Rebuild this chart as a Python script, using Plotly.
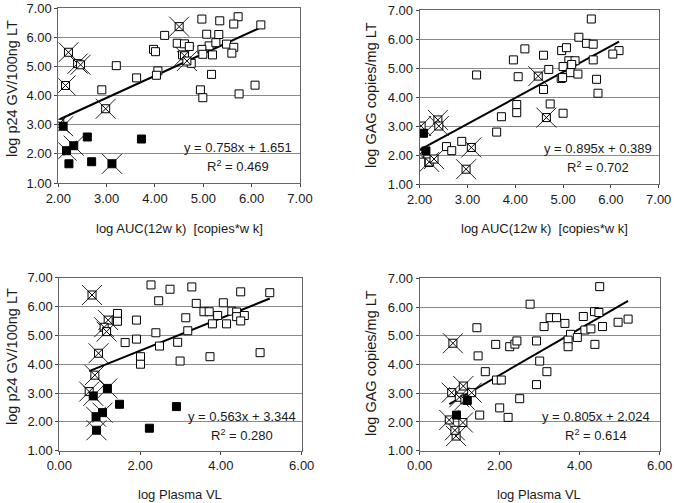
import plotly.graph_objects as go
import numpy as np

# ---------------- Panel 1: log p24 vs log AUC ----------------
p1_open_x = [4.97, 5.34, 5.72, 5.63, 6.19, 4.20, 5.07, 5.32, 4.46, 4.61, 3.97, 4.01, 4.71, 5.12, 5.26,
             4.97, 5.48, 5.63, 5.59, 4.99, 5.19, 4.57, 4.75, 3.20, 4.06, 4.03, 5.17, 3.62, 2.90, 4.94,
             4.99, 5.74, 6.07]
p1_open_y = [6.63, 6.57, 6.71, 6.46, 6.43, 6.07, 6.11, 6.10, 5.80, 5.78, 5.59, 5.51, 5.69, 5.71, 5.82,
             5.59, 5.77, 5.66, 5.46, 5.42, 5.40, 5.40, 5.11, 5.03, 4.85, 4.70, 4.73, 4.61, 4.20, 4.20,
             3.93, 4.06, 4.36]
p1_filled_x = [2.60, 3.72, 2.22, 2.69]
p1_filled_y = [2.58, 2.51, 1.66, 1.73]
p1_xopen_x = [4.50, 2.21, 2.40, 2.46, 2.15, 2.98, 2.03, 4.61, 4.66]
p1_xopen_y = [6.37, 5.49, 5.10, 5.06, 4.35, 3.55, 3.05, 5.37, 5.19]
p1_xfilled_x = [2.10, 2.17, 2.32, 3.11]
p1_xfilled_y = [2.95, 2.11, 2.28, 1.66]

# ---------------- Panel 2: log GAG vs log AUC ----------------
p2_open_x = [5.59, 5.33, 5.49, 5.63, 6.17, 6.04, 4.20, 4.59, 4.97, 5.07, 3.96, 5.12, 5.25, 5.63, 5.00,
             4.70, 5.18, 5.15, 5.31, 4.96, 4.99, 5.70, 5.73, 4.06, 4.59, 3.19, 4.03, 4.03, 4.73, 5.00,
             3.71, 3.61, 2.56, 2.67, 2.88, 2.19]
p2_open_y = [6.69, 6.06, 5.85, 5.82, 5.60, 5.48, 5.66, 5.44, 5.60, 5.70, 5.28, 5.25, 5.25, 5.28, 5.05,
             4.95, 5.12, 4.84, 4.79, 4.64, 4.67, 4.61, 4.13, 4.70, 4.26, 4.76, 3.74, 3.46, 3.76, 3.44,
             3.32, 2.79, 2.29, 2.15, 2.47, 1.74]
p2_filled_x = [2.08, 2.13]
p2_filled_y = [2.75, 2.14]
p2_xopen_x = [4.48, 4.65, 3.08, 2.97, 2.38, 2.40, 2.03, 2.00, 2.20, 2.30]
p2_xopen_y = [4.72, 3.29, 2.26, 1.51, 3.21, 3.00, 3.00, 2.03, 1.76, 1.86]
p2_xfilled_x = []
p2_xfilled_y = []

# ---------------- Panel 3: log p24 vs log Plasma VL ----------------
p3_open_x = [2.27, 2.74, 3.28, 2.46, 3.39, 4.06, 4.49, 5.21, 1.44, 1.44, 1.91, 3.13, 3.58, 3.71, 3.92,
             4.27, 4.39, 4.39, 4.58, 3.79, 4.14, 4.49, 2.39, 3.18, 1.63, 1.91, 2.48, 2.93, 2.01, 2.01,
             2.99, 3.73, 4.97]
p3_open_y = [6.75, 6.60, 6.68, 6.20, 6.11, 6.13, 6.51, 6.48, 5.76, 5.49, 5.53, 5.61, 5.82, 5.82, 5.69,
             5.84, 5.81, 5.65, 5.69, 5.40, 5.40, 5.50, 5.09, 5.16, 4.75, 4.87, 4.63, 4.76, 4.26, 4.00,
             4.11, 4.26, 4.40]
p3_filled_x = [1.49, 2.90, 2.23]
p3_filled_y = [2.61, 2.53, 1.78]
p3_xopen_x = [0.81, 1.21, 1.11, 1.17, 0.97, 0.88, 0.74]
p3_xopen_y = [6.40, 5.53, 5.28, 5.13, 4.38, 3.62, 3.05]
p3_xfilled_x = [0.84, 1.19, 0.91, 1.07, 0.92]
p3_xfilled_y = [2.90, 3.16, 2.18, 2.32, 1.71]

# ---------------- Panel 4: log GAG vs log Plasma VL ----------------
p4_open_x = [4.50, 2.76, 3.26, 3.42, 3.63, 4.09, 4.37, 4.48, 4.96, 5.21, 4.57, 1.43, 3.11, 4.13, 4.28,
             3.77, 3.71, 3.71, 3.94, 4.38, 1.90, 2.25, 2.38, 2.43, 2.92, 1.46, 1.64, 3.00, 3.18, 1.92,
             2.04, 2.92, 2.50, 1.50, 2.00, 2.21]
p4_open_y = [6.71, 6.10, 5.63, 5.63, 5.43, 5.67, 5.84, 5.81, 5.47, 5.58, 5.32, 5.28, 5.32, 5.20, 5.24,
             5.05, 4.85, 4.62, 4.94, 4.70, 4.70, 4.62, 4.71, 4.82, 4.82, 4.30, 3.75, 4.12, 3.75, 3.46,
             3.46, 3.30, 2.81, 2.24, 2.49, 2.16]
p4_filled_x = [0.92, 1.19]
p4_filled_y = [2.24, 2.75]
p4_xopen_x = [0.83, 0.80, 1.09, 1.30, 0.99, 1.13, 0.74, 1.08, 0.91, 0.88]
p4_xopen_y = [4.74, 3.02, 3.25, 3.02, 2.86, 2.77, 2.07, 1.98, 1.51, 1.71]
p4_xfilled_x = []
p4_xfilled_y = []

slopes = [0.758, 0.895, 0.563, 0.805]
intercepts = [1.651, 0.389, 3.344, 2.024]
r2_values = ["0.469", "0.702", "0.280", "0.614"]
x_titles = ["log AUC(12w k)  [copies*w k]", "log AUC(12w k)  [copies*w k]", "log Plasma VL", "log Plasma VL"]
y_titles = ["log p24 GV/100ng LT", "log GAG copies/mg LT", "log p24 GV/100ng LT", "log GAG copies/mg LT"]
x_ranges = [[2, 7], [2, 7], [0, 6], [0, 6]]
x_dticks = [1, 1, 2, 2]

panels = [
    (p1_open_x, p1_open_y, p1_filled_x, p1_filled_y, p1_xopen_x, p1_xopen_y, p1_xfilled_x, p1_xfilled_y),
    (p2_open_x, p2_open_y, p2_filled_x, p2_filled_y, p2_xopen_x, p2_xopen_y, p2_xfilled_x, p2_xfilled_y),
    (p3_open_x, p3_open_y, p3_filled_x, p3_filled_y, p3_xopen_x, p3_xopen_y, p3_xfilled_x, p3_xfilled_y),
    (p4_open_x, p4_open_y, p4_filled_x, p4_filled_y, p4_xopen_x, p4_xopen_y, p4_xfilled_x, p4_xfilled_y),
]

W, H = 676, 503
# plot-area pixel boxes (left, right, top, bottom)
boxes = [(58.3, 300.0, 8.3, 183.0), (419.7, 658.7, 10.0, 184.0),
         (59.3, 301.7, 277.7, 450.7), (419.7, 659.7, 278.3, 450.7)]
# equation label centers (x, y of first line)
eq_pos = [(237.5, 147), (598, 148), (241.5, 416), (595.5, 416)]
xt_pos = [(179, 228), (544, 228), (180, 494), (539, 494)]
yt_pos = [(12, 89), (371, 95), (12, 357), (371, 363)]

FONT = "Liberation Sans, Arial, sans-serif"
TXT = "#1a1a1a"
fig = go.Figure()
annotations = []

for i, (ox, oy, fx, fy, cx, cy, cfx, cfy) in enumerate(panels):
    k = "" if i == 0 else str(i + 1)
    xa, ya = "x" + k, "y" + k
    # trend line
    allx = np.array(ox + fx + cx + cfx)
    lx = np.array([allx.min(), allx.max()])
    fig.add_trace(go.Scatter(x=lx, y=slopes[i] * lx + intercepts[i], mode="lines",
                             line=dict(color="black", width=2), xaxis=xa, yaxis=ya, hoverinfo="skip"))
    # big thin crosses
    fig.add_trace(go.Scatter(x=cx + cfx, y=cy + cfy, mode="markers",
                             marker=dict(symbol="x-thin-open", size=20, color="#222",
                                         line=dict(color="#222", width=1)),
                             xaxis=xa, yaxis=ya, hoverinfo="skip"))
    fig.add_trace(go.Scatter(x=ox, y=oy, mode="markers",
                             marker=dict(symbol="square", size=8, color="white",
                                         line=dict(color="black", width=1)),
                             xaxis=xa, yaxis=ya, hoverinfo="skip"))
    fig.add_trace(go.Scatter(x=cx, y=cy, mode="markers",
                             marker=dict(symbol="square-x", size=8, color="white",
                                         line=dict(color="black", width=1)),
                             xaxis=xa, yaxis=ya, hoverinfo="skip"))
    fig.add_trace(go.Scatter(x=fx + cfx, y=fy + cfy, mode="markers",
                             marker=dict(symbol="square", size=8, color="black",
                                         line=dict(color="black", width=1)),
                             xaxis=xa, yaxis=ya, hoverinfo="skip"))

    l, r, t, b = boxes[i]
    fig.layout["xaxis" + k] = dict(domain=[l / W, r / W], anchor=ya, range=x_ranges[i], dtick=x_dticks[i],
                                   tick0=0, tickformat=".2f", showgrid=False, zeroline=False,
                                   showline=True, linecolor="#666", linewidth=1, mirror=True,
                                   ticks="outside", ticklen=3, tickcolor="#444", automargin=False,
                                   tickfont=dict(family=FONT, size=13, color=TXT))
    fig.layout["yaxis" + k] = dict(domain=[1 - b / H, 1 - t / H], anchor=xa, range=[1, 7], dtick=1,
                                   tickformat=".2f", showgrid=True, gridcolor="#8a8a8a", gridwidth=1,
                                   zeroline=False, showline=True, linecolor="#666", linewidth=1, mirror=True,
                                   ticks="outside", ticklen=3, tickcolor="#444", automargin=False,
                                   tickfont=dict(family=FONT, size=13, color=TXT))
    ex, ey = eq_pos[i]
    annotations.append(dict(x=ex / W, y=1 - ey / H, xref="paper", yref="paper", showarrow=False,
                            text=f"y = {slopes[i]:.3f}x + {intercepts[i]:.3f}", xanchor="center",
                            yanchor="middle", font=dict(family=FONT, size=13, color=TXT)))
    annotations.append(dict(x=ex / W, y=1 - (ey + 19) / H, xref="paper", yref="paper", showarrow=False,
                            text=f"R<sup>2</sup> = {r2_values[i]}", xanchor="center",
                            yanchor="middle", font=dict(family=FONT, size=13, color=TXT)))
    tx, ty = xt_pos[i]
    annotations.append(dict(x=tx / W, y=1 - ty / H, xref="paper", yref="paper", showarrow=False,
                            text=x_titles[i], xanchor="center", yanchor="middle",
                            font=dict(family=FONT, size=13, color=TXT)))
    yx, yy = yt_pos[i]
    annotations.append(dict(x=yx / W, y=1 - yy / H, xref="paper", yref="paper", showarrow=False,
                            text=y_titles[i], textangle=-90, xanchor="center", yanchor="middle",
                            font=dict(family=FONT, size=14.5, color=TXT)))

fig.update_layout(width=W, height=H, margin=dict(l=0, r=0, t=0, b=0, autoexpand=False), showlegend=False,
                  paper_bgcolor="white", plot_bgcolor="white", annotations=annotations)
fig.write_html("out.html", config={"displayModeBar": False},
               post_script="document.body.style.margin='0';document.body.style.overflow='hidden';")
